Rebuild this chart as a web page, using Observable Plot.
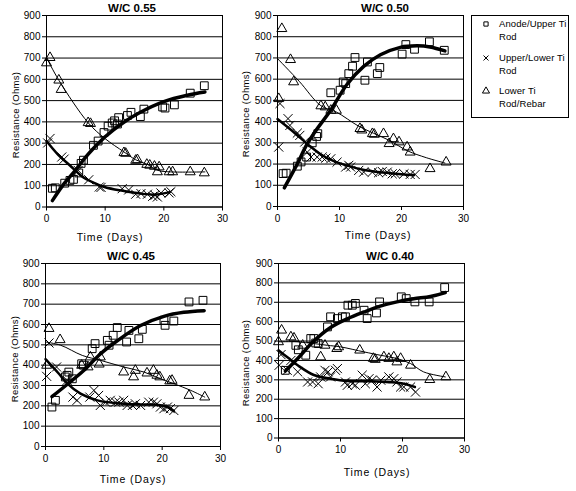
<!DOCTYPE html>
<html><head><meta charset="utf-8">
<script src="https://cdn.jsdelivr.net/npm/d3@7"></script>
<script src="https://cdn.jsdelivr.net/npm/@observablehq/plot@0.6"></script>
<style>
html,body{margin:0;padding:0;background:#fff;}
#wrap{position:relative;width:576px;height:491px;overflow:hidden;font-family:"Liberation Sans",Arial,sans-serif;color:#000;}
#wrap svg.plot{position:absolute;left:0;top:0;}
.t{position:absolute;white-space:nowrap;line-height:1;}
#legend{position:absolute;left:471px;top:15px;width:98px;height:103px;border:1px solid #000;box-sizing:border-box;background:#fff;}
</style></head><body><div id="wrap"></div>
<script>
// ---- tick labels ----
const xTicks = [0, 10, 20, 30];
const yTicks = [0, 100, 200, 300, 400, 500, 600, 700, 800, 900];
const titles = ["W/C 0.55", "W/C 0.50", "W/C 0.45", "W/C 0.40"];
const seriesNames = [["Anode/Upper Ti", "Rod"], ["Upper/Lower Ti", "Rod"], ["Lower Ti", "Rod/Rebar"]];

// ---- W/C 0.55 ----
const anode55 = [[1.0,88],[1.5,90],[3.1,112],[4.0,125],[4.6,130],[5.5,160],[5.9,205],[6.3,220],[8.0,290],[8.8,310],[9.8,350],[10.5,380],[11.2,395],[11.6,405],[12.1,390],[12.3,420],[13.8,430],[14.4,445],[16.0,425],[16.6,460],[19.8,470],[20.2,465],[21.8,480],[24.5,535],[26.9,570]];
const upper55 = [[0.2,301],[0.6,322],[2.6,235],[3.0,225],[5.4,172],[7.2,128],[9.0,94],[9.3,92],[12.9,86],[14.0,80],[15.2,60],[16.1,63],[17.2,60],[18.1,50],[18.5,55],[18.9,47],[19.5,66],[20.9,66],[21.2,72]];
const lower55 = [[0,677],[0.6,702],[2.1,596],[2.5,552],[7.1,396],[7.5,392],[13.2,255],[13.5,252],[15.2,219],[15.5,222],[17.1,200],[17.6,196],[18.4,191],[19.2,188],[18.9,165],[20.9,165],[21.5,165],[24.5,165],[26.9,160]];
const anodeFit55 = [[1,30],[3,110],[5,175],[7,245],[10,330],[13,395],[16,445],[20,495],[24,525],[27,540]];
const upperFit55 = [[0,310],[2,245],[4,195],[6,145],[8,115],[10,93],[13,76],[16,63],[18.5,58],[21,70]];
const lowerFit55 = [[0,702],[2.1,596],[7.1,396],[10,321],[13.2,259],[15.2,222],[17.2,200],[19,172],[21.2,165],[27,165]];

// ---- W/C 0.50 ----
const anode50 = [[0.9,155],[1.4,157],[3.2,190],[3.8,210],[4.7,233],[5.6,300],[6.3,330],[6.5,343],[8.6,536],[10.1,548],[10.6,587],[11.0,579],[11.5,626],[12.1,661],[12.5,702],[14.1,595],[14.5,681],[16.1,626],[16.5,655],[20.1,718],[20.7,763],[22.1,741],[24.5,776],[26.9,736]];
const upper50 = [[0.2,280],[0.4,485],[1.7,414],[2.0,382],[3.2,346],[3.6,335],[4.4,304],[4.8,256],[5.4,233],[6.4,233],[7.2,233],[7.8,228],[8.6,225],[9.6,209],[11.0,186],[11.5,194],[11.8,186],[13.1,170],[13.9,162],[15.3,162],[16.3,159],[16.9,165],[17.7,162],[18.5,154],[19.0,154],[20.4,154],[21.4,151],[22.2,151]];
const lower50 = [[0.2,508],[0.7,838],[2.1,692],[2.6,587],[7.0,474],[7.7,469],[8.6,453],[9.5,453],[13.3,367],[13.6,360],[15.3,343],[15.6,340],[17.1,343],[18.0,296],[18.7,319],[19.6,304],[20.9,280],[21.4,256],[24.6,178],[27.2,209]];
const anodeFit50 = [[1.1,88],[3,190],[4.7,290],[6,350],[8.6,455],[11.2,575],[13.9,660],[16.6,715],[19.8,750],[22.5,757],[24.6,752],[27,733]];
const upperFit50 = [[0,412],[2,365],[4,315],[5,290],[7,245],[9,215],[11,195],[14,172],[17,160],[20,152],[22,148]];
const lowerFit50 = [[0,697],[3.5,590],[7,475],[9.5,445],[13,380],[15.5,345],[18,312],[21,262],[24,230],[27,205]];

// ---- W/C 0.45 ----
const anode45 = [[1.1,194],[1.7,227],[3.4,342],[3.7,350],[4.0,366],[4.6,333],[6.2,407],[6.5,400],[8.0,481],[8.5,506],[10.6,522],[10.9,498],[11.6,547],[12.3,585],[13.9,514],[14.3,571],[16.0,530],[16.6,576],[20.3,621],[20.5,596],[22.0,617],[24.6,711],[27.0,719]];
const upper45 = [[0.2,345],[0.6,509],[1.9,391],[3.7,325],[4.7,243],[5.4,227],[7.6,243],[8.3,276],[9.1,251],[9.4,202],[10.3,218],[11.1,227],[12.0,218],[12.6,218],[13.4,227],[14.0,202],[14.9,202],[15.4,210],[16.3,202],[17.7,218],[18.5,218],[19.1,210],[19.7,194],[20.3,186],[20.9,194],[21.4,186],[22.0,177]];
const lower45 = [[0.2,399],[0.6,580],[2.5,525],[6.2,399],[7.3,391],[7.7,440],[9.4,440],[9.2,405],[13.4,366],[15.1,342],[15.4,374],[17.4,361],[18.5,374],[19.1,350],[19.6,342],[21.3,322],[21.7,325],[24.6,251],[27.3,243]];
const anodeFit45 = [[1.1,245],[3.7,305],[6.6,375],[9.4,455],[12.3,520],[16.3,595],[20.3,640],[23.7,660],[27.2,668]];
const upperFit45 = [[0,430],[2.3,358],[3.7,310],[6,260],[8.9,227],[12.3,213],[16.3,207],[18.6,206],[20.9,194],[22,175]];
const lowerFit45 = [[0,514],[2.6,498],[6.3,448],[9.4,424],[13.4,391],[16.9,366],[19.7,333],[22,309],[24.9,276],[27.3,243]];

// ---- W/C 0.40 ----
const anode40 = [[1.1,349],[2.8,478],[3.2,455],[4.4,427],[5.2,513],[5.7,513],[6.0,490],[6.4,487],[7.9,573],[8.4,625],[9.5,616],[10.3,625],[10.8,625],[11.2,685],[11.9,685],[12.4,694],[13.8,659],[14.3,616],[15.8,645],[16.3,702],[19.8,728],[20.6,719],[22.0,702],[24.3,702],[26.8,776]];
const upper40 = [[0.1,375],[0.4,430],[1.4,349],[2.0,400],[3.1,341],[4.7,289],[5.5,289],[6.4,280],[6.8,315],[7.5,349],[8.0,341],[8.4,315],[9.2,349],[9.5,358],[10.8,289],[11.1,272],[11.9,280],[12.4,272],[13.5,324],[14.0,280],[14.6,306],[15.1,298],[15.9,263],[16.5,298],[17.8,315],[18.6,306],[19.1,289],[19.7,263],[20.2,263],[21.3,263],[22.1,237]];
const lower40 = [[0,496],[0.5,556],[2.0,521],[2.5,515],[3.9,478],[6.8,418],[7.5,478],[9.4,461],[9.7,470],[13.1,453],[15.3,410],[15.6,405],[17.0,418],[17.8,410],[18.6,418],[19.1,392],[19.7,410],[21.3,375],[24.4,301],[27.0,315]];
const anodeFit40 = [[1.1,345],[3.1,410],[5.7,500],[8.4,570],[11.1,615],[13.8,650],[16.4,680],[19.1,702],[21.8,718],[24.5,730],[26.9,750]];
const upperFit40 = [[0,452],[1.5,415],[3.1,375],[5.7,325],[8.4,306],[11.1,294],[14.8,293],[18,288],[20.2,280],[22,263]];
const lowerFit40 = [[0,496],[3,496],[5.7,487],[7.9,478],[10,470],[13.8,444],[16.4,427],[19.1,410],[21.3,384],[23.4,341],[26.9,315]];

// ---- layout (positions only) ----
const W = 576, H = 491;
const layout = [
  {l:46,  r:222, t:15,  b:206.5, title:[132,9],   xl:[110,237], yl:[16,115]},
  {l:277, r:463, t:15,  b:206,   title:[385,9],   xl:[378,235], yl:[246,114]},
  {l:45,  r:220, t:263, b:446,   title:[131,257], xl:[133,479], yl:[15,359]},
  {l:278, r:464, t:263, b:437.5, title:[390,257], xl:[377,472], yl:[246,363]}
];
const panels = [
  {anode:anode55, upper:upper55, lower:lower55, anodeFit:anodeFit55, upperFit:upperFit55, lowerFit:lowerFit55},
  {anode:anode50, upper:upper50, lower:lower50, anodeFit:anodeFit50, upperFit:upperFit50, lowerFit:lowerFit50},
  {anode:anode45, upper:upper45, lower:lower45, anodeFit:anodeFit45, upperFit:upperFit45, lowerFit:lowerFit45},
  {anode:anode40, upper:upper40, lower:lower40, anodeFit:anodeFit40, upperFit:upperFit40, lowerFit:lowerFit40}
];

const wrap = document.getElementById("wrap");
const FONT = '"Liberation Sans", Arial, sans-serif';
const X = d => d[0], Y = d => d[1];

function addText(txt, x, y, opts = {}) {
  const d = document.createElement("div");
  d.className = "t";
  d.textContent = txt;
  d.style.left = x + "px";
  d.style.top = y + "px";
  d.style.fontSize = (opts.size || 10) + "px";
  if (opts.bold) d.style.fontWeight = "bold";
  if (opts.ls) d.style.letterSpacing = opts.ls + "px";
  d.style.transform = "translate(-50%,-50%)" + (opts.rot ? " rotate(-90deg)" : "");
  wrap.appendChild(d);
}

panels.forEach((p, i) => {
  const L = layout[i];
  const svg = Plot.plot({
    width: W, height: H,
    marginLeft: L.l, marginRight: W - L.r, marginTop: L.t, marginBottom: H - L.b,
    x: {domain: [0, 30]},
    y: {domain: [0, 900]},
    style: {background: "transparent", fontFamily: FONT, fontSize: "10px", color: "#000", overflow: "visible"},
    marks: [
      Plot.gridY(yTicks, {stroke: "#000", strokeOpacity: 1, strokeWidth: 1}),
      Plot.frame({stroke: "#000", strokeWidth: 1}),
      Plot.axisY(yTicks, {tickSize: 4, tickPadding: 2, label: null, fontSize: 10}),
      Plot.axisX(xTicks, {tickSize: 4, tickPadding: 4, label: null, fontSize: 10}),
      Plot.dot(p.anode, {x: X, y: Y, symbol: "square", r: 4.4, stroke: "#000", fill: "none", strokeWidth: 1}),
      Plot.dot(p.upper, {x: X, y: Y, symbol: "times", r: 4.2, stroke: "#000", strokeWidth: 1}),
      Plot.dot(p.lower, {x: X, y: Y, symbol: "triangle", r: 3.7, stroke: "#000", fill: "none", strokeWidth: 1}),
      Plot.line(p.lowerFit, {x: X, y: Y, curve: "catmull-rom", stroke: "#000", strokeWidth: 1}),
      Plot.line(p.upperFit, {x: X, y: Y, curve: "catmull-rom", stroke: "#000", strokeWidth: 2.5}),
      Plot.line(p.anodeFit, {x: X, y: Y, curve: "catmull-rom", stroke: "#000", strokeWidth: 3.5})
    ]
  });
  svg.classList.add("plot");
  wrap.appendChild(svg);
  addText(titles[i], L.title[0], L.title[1], {size: 11.5, bold: true});
  addText("Time (Days)", L.xl[0], L.xl[1], {size: 10.5, ls: 0.9});
  addText("Resistance (Ohms)", L.yl[0], L.yl[1], {size: 9.5, ls: 0.3, rot: true});
});

// ---- legend ----
const leg = document.createElement("div");
leg.id = "legend";
wrap.appendChild(leg);
const legRows = [[24, 37], [58, 71], [91, 104]];
const symbols = ["square", "times", "triangle"];
const lsvg = d3.create("svg").attr("width", 20).attr("height", 120)
  .style("position", "absolute").style("left", "476px").style("top", "0px");
symbols.forEach((s, k) => {
  const y = legRows[k][0];
  const sym = {square: d3.symbolSquare, times: d3.symbolTimes, triangle: d3.symbolTriangle}[s];
  lsvg.append("path").attr("d", d3.symbol(sym, s === "triangle" ? 22 : 18)())
    .attr("transform", `translate(10,${y})`).attr("fill", "none").attr("stroke", "#000").attr("stroke-width", 1);
});
wrap.appendChild(lsvg.node());
seriesNames.forEach((lines, k) => {
  lines.forEach((ln, j) => {
    const d = document.createElement("div");
    d.className = "t";
    d.textContent = ln;
    d.style.left = "499px";
    d.style.top = (legRows[k][j] - 5.5) + "px";
    d.style.fontSize = "9.5px";
    d.style.letterSpacing = "0.1px";
    wrap.appendChild(d);
  });
});
</script></body></html>
